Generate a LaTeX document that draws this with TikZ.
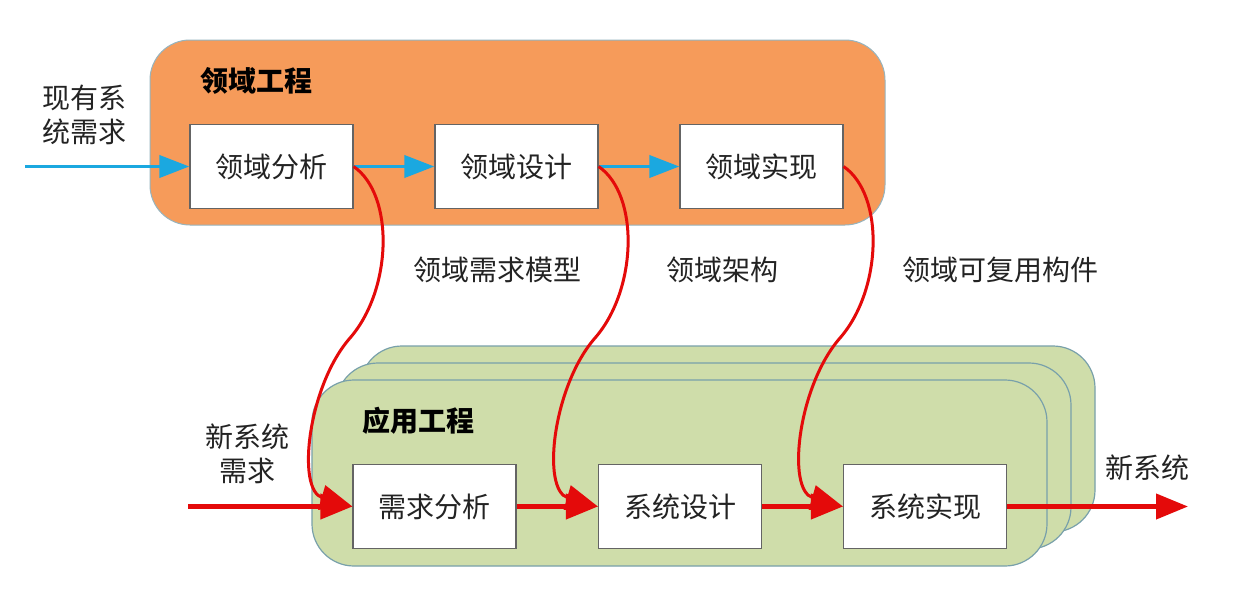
\documentclass[tikz,border=0pt]{standalone}
\usepackage{fontspec}
\setmainfont{Noto Sans CJK SC}
\usetikzlibrary{arrows.meta}
\definecolor{orangefill}{RGB}{246,155,90}
\definecolor{orangeline}{RGB}{150,180,190}
\definecolor{greenfill}{RGB}{207,221,170}
\definecolor{greenline}{RGB}{120,160,170}
\definecolor{boxgray}{RGB}{100,100,100}
\definecolor{arrowblue}{RGB}{27,168,224}
\definecolor{arrowred}{RGB}{228,10,10}
\definecolor{textgray}{RGB}{35,35,35}
\begin{document}
\begin{tikzpicture}[x=1pt,y=-1pt,
  stepbox/.style={draw=boxgray, line width=1.2pt, fill=white, minimum width=163pt, minimum height=84pt, inner sep=0pt, text=textgray, font=\fontsize{28}{30}\selectfont},
  orangebox/.style={draw=orangeline, line width=1pt, fill=orangefill, rounded corners=40pt, minimum width=735pt, minimum height=185pt, inner sep=0pt},
  greenbox/.style={draw=greenline, line width=1.2pt, fill=greenfill, rounded corners=42pt, minimum width=735pt, minimum height=186pt, inner sep=0pt},
  title/.style={font=\fontsize{28}{30}\selectfont\bfseries, text=black, inner sep=0pt},
  label/.style={font=\fontsize{28}{34}\selectfont, text=textgray, inner sep=0pt, align=center},
  bluearrow/.style={draw=arrowblue, line width=3.8pt, -{Triangle[length=30pt,width=22pt]}},
  redarrow/.style={draw=arrowred, line width=4.2pt, -{Triangle[length=32pt,width=25pt]}},
  redcurve/.style={draw=arrowred, line width=3pt, -{Triangle[length=32pt,width=25pt]}}
]
\useasboundingbox[fill=white] (0,0) rectangle (1251,603);

% containers
\node[orangebox] (de) at (517.5,132.5) {};
\node[greenbox] (ae3) at (727.5,439) {};
\node[greenbox] (ae2) at (703.5,456) {};
\node[greenbox] (ae1) at (679.5,473) {};

% titles
\node[title] (detitle) at (256,81) {领域工程};
\node[title] (aetitle) at (418,421) {应用工程};

% domain boxes
\node[stepbox] (da) at (271.5,166.5) {领域分析};
\node[stepbox] (dd) at (516.5,166.5) {领域设计};
\node[stepbox] (di) at (761.5,166.5) {领域实现};

% application boxes
\node[stepbox] (ra) at (434.5,506.5) {需求分析};
\node[stepbox] (sd) at (680,506.5) {系统设计};
\node[stepbox] (si) at (925,506.5) {系统实现};

% labels
\node[label] (inlbl1) at (84,115) {现有系\\统需求};
\node[label] (inlbl2) at (247,454) {新系统\\需求};
\node[label] (outlbl) at (1147,468) {新系统};
\node[label] (m1) at (497,270) {领域需求模型};
\node[label] (m2) at (722,270) {领域架构};
\node[label] (m3) at (1000,270) {领域可复用构件};

% endpoints
\coordinate (in1) at (25,166.5);
\coordinate (in2) at (188,506.5);
\coordinate (out2) at (1188,506.5);

% blue arrows
\draw[bluearrow] (in1) -- (da.west);
\draw[bluearrow] (da.east) -- (dd.west);
\draw[bluearrow] (dd.east) -- (di.west);

% red arrows
\draw[redarrow] (in2) -- (ra.west);
\draw[redarrow] (ra.east) -- (sd.west);
\draw[redarrow] (sd.east) -- (si.west);
\draw[redarrow] (si.east) -- (out2);

% red curves
\draw[redcurve] (da.east) .. controls (395,195) and (392,290) .. (350,338)
  .. controls (308,386) and (296,490) .. (ra.west);
\draw[redcurve] (dd.east) .. controls (640,195) and (637,290) .. (595,338)
  .. controls (553,386) and (541,490) .. (sd.west);
\draw[redcurve] (di.east) .. controls (885,195) and (882,290) .. (840,338)
  .. controls (798,386) and (786,490) .. (si.west);
\end{tikzpicture}
\end{document}
